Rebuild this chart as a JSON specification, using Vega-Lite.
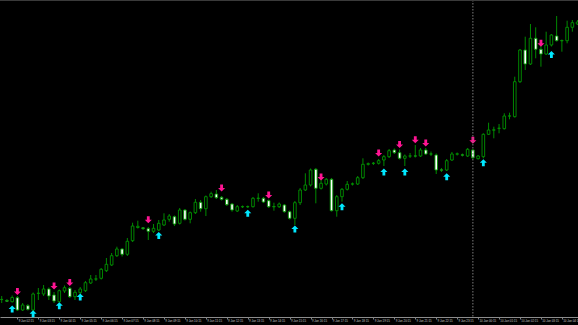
{
"$schema": "https://vega.github.io/schema/vega-lite/v6.json",
"width": 578, "height": 317,
"autosize": {"type": "none"},
"padding": {"left": 0, "top": 0, "right": 0, "bottom": 8},
"background": "#000000",
"config": {"view": {"stroke": null}, "axis": {"labelOverlap": false}},
"resolve": {"axis": {"x": "independent"}},
"datasets": {
"candles": [
{"t":"2024-01-09T01:30Z","o":17.4,"h":21,"l":14,"c":17.6},
{"t":"2024-01-09T01:45Z","o":16.5,"h":18,"l":15,"c":15.8},
{"t":"2024-01-09T02:00Z","o":15.3,"h":21.5,"l":14.5,"c":19.5},
{"t":"2024-01-09T02:15Z","o":19.3,"h":21,"l":6,"c":7},
{"t":"2024-01-09T02:30Z","o":7,"h":14,"l":6,"c":12},
{"t":"2024-01-09T02:45Z","o":11.3,"h":13,"l":6.5,"c":7.7},
{"t":"2024-01-09T03:00Z","o":7,"h":24.5,"l":6,"c":23},
{"t":"2024-01-09T03:15Z","o":23.6,"h":29,"l":17,"c":23.8},
{"t":"2024-01-09T03:30Z","o":23,"h":32,"l":21,"c":28},
{"t":"2024-01-09T03:45Z","o":28,"h":29.5,"l":17,"c":21},
{"t":"2024-01-09T04:00Z","o":22,"h":25,"l":14,"c":16},
{"t":"2024-01-09T04:15Z","o":15.3,"h":27.5,"l":14.5,"c":26.3},
{"t":"2024-01-09T04:30Z","o":26,"h":31.5,"l":24,"c":29.3},
{"t":"2024-01-09T04:45Z","o":28.7,"h":30,"l":19,"c":20.3},
{"t":"2024-01-09T05:00Z","o":20.3,"h":27,"l":17,"c":24.7},
{"t":"2024-01-09T05:15Z","o":24.3,"h":30,"l":23,"c":28},
{"t":"2024-01-09T05:30Z","o":26.3,"h":36,"l":25,"c":34.3},
{"t":"2024-01-09T05:45Z","o":34,"h":42,"l":33,"c":38},
{"t":"2024-01-09T06:00Z","o":37.9,"h":42,"l":36,"c":38.1},
{"t":"2024-01-09T06:15Z","o":38.7,"h":49,"l":37.5,"c":47.7},
{"t":"2024-01-09T06:30Z","o":46.3,"h":59,"l":45,"c":52.7},
{"t":"2024-01-09T06:45Z","o":52,"h":64,"l":51,"c":61.3},
{"t":"2024-01-09T07:00Z","o":61.3,"h":70.3,"l":60,"c":68},
{"t":"2024-01-09T07:15Z","o":68,"h":69,"l":60.5,"c":62.7},
{"t":"2024-01-09T07:30Z","o":62.7,"h":79,"l":61,"c":75.7},
{"t":"2024-01-09T07:45Z","o":76.3,"h":94.3,"l":75,"c":91},
{"t":"2024-01-09T08:00Z","o":89.5,"h":96.3,"l":88.5,"c":90.7},
{"t":"2024-01-09T08:15Z","o":89.2,"h":90,"l":87,"c":88.4},
{"t":"2024-01-09T08:30Z","o":88.3,"h":90,"l":77,"c":85.7},
{"t":"2024-01-09T08:45Z","o":85.7,"h":93,"l":84,"c":88.7},
{"t":"2024-01-09T09:00Z","o":87,"h":97,"l":86,"c":93.7},
{"t":"2024-01-09T09:15Z","o":92,"h":103.7,"l":91,"c":97},
{"t":"2024-01-09T09:30Z","o":97.7,"h":103,"l":95.3,"c":101},
{"t":"2024-01-09T09:45Z","o":100.3,"h":101.5,"l":91,"c":93},
{"t":"2024-01-09T10:00Z","o":93.7,"h":109,"l":92.5,"c":107},
{"t":"2024-01-09T10:15Z","o":107,"h":108,"l":96.5,"c":97.7},
{"t":"2024-01-09T10:30Z","o":97.7,"h":105.5,"l":93.7,"c":104.3},
{"t":"2024-01-09T10:45Z","o":104.3,"h":118,"l":103,"c":114.7},
{"t":"2024-01-09T11:00Z","o":114.7,"h":117,"l":105.3,"c":108.3},
{"t":"2024-01-09T11:15Z","o":108.3,"h":121.5,"l":101,"c":120.3},
{"t":"2024-01-09T11:30Z","o":120.3,"h":125.3,"l":119,"c":123.3},
{"t":"2024-01-09T11:45Z","o":123,"h":127,"l":118,"c":119.3},
{"t":"2024-01-09T12:00Z","o":119.7,"h":121,"l":116.5,"c":117.7},
{"t":"2024-01-09T12:15Z","o":117.7,"h":119,"l":111,"c":112.3},
{"t":"2024-01-09T12:30Z","o":113,"h":114,"l":105.3,"c":107},
{"t":"2024-01-09T12:45Z","o":106,"h":112,"l":105,"c":110.3},
{"t":"2024-01-09T13:00Z","o":110.2,"h":111.5,"l":109,"c":110.4},
{"t":"2024-01-09T13:15Z","o":110.4,"h":111.5,"l":109,"c":110.2},
{"t":"2024-01-09T13:30Z","o":110.3,"h":120,"l":109.5,"c":118.7},
{"t":"2024-01-09T13:45Z","o":118.6,"h":123.7,"l":115.3,"c":118.8},
{"t":"2024-01-09T14:00Z","o":118.7,"h":120,"l":114,"c":115},
{"t":"2024-01-09T14:15Z","o":116.3,"h":117.5,"l":109,"c":110.3},
{"t":"2024-01-09T14:30Z","o":110.4,"h":114.3,"l":106.3,"c":110.2},
{"t":"2024-01-09T14:45Z","o":110.3,"h":114.5,"l":109,"c":113},
{"t":"2024-01-09T15:00Z","o":112,"h":113,"l":104.3,"c":105.3},
{"t":"2024-01-09T15:15Z","o":105.3,"h":106.5,"l":97.5,"c":98.7},
{"t":"2024-01-09T15:30Z","o":98.7,"h":116,"l":92,"c":114.3},
{"t":"2024-01-09T15:45Z","o":114.3,"h":129,"l":112,"c":127},
{"t":"2024-01-09T16:00Z","o":127,"h":143.7,"l":126,"c":132},
{"t":"2024-01-09T16:15Z","o":132,"h":148.5,"l":130.5,"c":147},
{"t":"2024-01-09T16:30Z","o":147.7,"h":149,"l":113.7,"c":128.7},
{"t":"2024-01-09T16:45Z","o":128.7,"h":139,"l":127.5,"c":133.7},
{"t":"2024-01-09T17:00Z","o":133,"h":139,"l":131.5,"c":137.7},
{"t":"2024-01-09T17:15Z","o":137.7,"h":139,"l":105.5,"c":106.3},
{"t":"2024-01-09T17:30Z","o":106.3,"h":122,"l":100.3,"c":120.3},
{"t":"2024-01-09T17:45Z","o":120.3,"h":129,"l":115.3,"c":127.7},
{"t":"2024-01-09T18:00Z","o":127.7,"h":136,"l":126.5,"c":132.7},
{"t":"2024-01-09T18:15Z","o":132.9,"h":134.5,"l":131.5,"c":133.1},
{"t":"2024-01-09T18:30Z","o":133,"h":141,"l":132,"c":139.3},
{"t":"2024-01-09T18:45Z","o":139.3,"h":158.7,"l":138,"c":152.7},
{"t":"2024-01-09T19:00Z","o":152.7,"h":154.5,"l":151.5,"c":153.3},
{"t":"2024-01-09T19:15Z","o":153.6,"h":155,"l":152,"c":153.8},
{"t":"2024-01-09T19:30Z","o":153.7,"h":158,"l":152.5,"c":156.3},
{"t":"2024-01-09T19:45Z","o":157,"h":162,"l":151,"c":160.3},
{"t":"2024-01-09T20:00Z","o":160.3,"h":168,"l":159,"c":166.3},
{"t":"2024-01-09T20:15Z","o":167,"h":168.5,"l":163,"c":164.3},
{"t":"2024-01-09T20:30Z","o":164.3,"h":167.5,"l":157.5,"c":158.7},
{"t":"2024-01-09T20:45Z","o":158.7,"h":162.5,"l":151,"c":161},
{"t":"2024-01-09T21:00Z","o":160.9,"h":164,"l":159,"c":161.1},
{"t":"2024-01-09T21:15Z","o":161.1,"h":172,"l":159.5,"c":160.9},
{"t":"2024-01-09T21:30Z","o":161,"h":169,"l":160,"c":167},
{"t":"2024-01-09T21:45Z","o":167,"h":169,"l":162,"c":163},
{"t":"2024-01-09T22:00Z","o":163.1,"h":165.5,"l":161,"c":162.9},
{"t":"2024-01-09T22:15Z","o":162,"h":163.5,"l":143,"c":147},
{"t":"2024-01-09T22:30Z","o":147.2,"h":149,"l":145,"c":146.8},
{"t":"2024-01-09T22:45Z","o":147,"h":158,"l":146,"c":156.3},
{"t":"2024-01-09T23:00Z","o":157,"h":165,"l":156,"c":163},
{"t":"2024-01-09T23:15Z","o":162.8,"h":164.5,"l":161.5,"c":163.2},
{"t":"2024-01-09T23:30Z","o":162.2,"h":163.5,"l":160.5,"c":161.8},
{"t":"2024-01-09T23:45Z","o":161,"h":169,"l":160,"c":167.7},
{"t":"2024-01-10T00:00Z","o":167,"h":168,"l":158,"c":159.3},
{"t":"2024-01-10T00:15Z","o":158.3,"h":162,"l":157.5,"c":161},
{"t":"2024-01-10T00:30Z","o":160.3,"h":183.7,"l":158.7,"c":182.7},
{"t":"2024-01-10T00:45Z","o":182.7,"h":194.3,"l":182,"c":187},
{"t":"2024-01-10T01:00Z","o":186.8,"h":190.3,"l":178.7,"c":187.2},
{"t":"2024-01-10T01:15Z","o":188.6,"h":193,"l":183.7,"c":188.8},
{"t":"2024-01-10T01:30Z","o":188.3,"h":203.7,"l":187.5,"c":201},
{"t":"2024-01-10T01:45Z","o":200.9,"h":204.3,"l":197.7,"c":201.1},
{"t":"2024-01-10T02:00Z","o":200.3,"h":240.3,"l":199.5,"c":235.3},
{"t":"2024-01-10T02:15Z","o":235.3,"h":268,"l":234,"c":267},
{"t":"2024-01-10T02:30Z","o":267,"h":280.3,"l":247,"c":253},
{"t":"2024-01-10T02:45Z","o":253,"h":293,"l":252,"c":278.7},
{"t":"2024-01-10T03:00Z","o":278.7,"h":289.7,"l":258.7,"c":267.7},
{"t":"2024-01-10T03:15Z","o":267.7,"h":272,"l":250.3,"c":263},
{"t":"2024-01-10T03:30Z","o":263,"h":285.3,"l":262,"c":272},
{"t":"2024-01-10T03:45Z","o":272,"h":283,"l":270.5,"c":282},
{"t":"2024-01-10T04:00Z","o":281,"h":301,"l":275.5,"c":276.3},
{"t":"2024-01-10T04:15Z","o":276.4,"h":277.5,"l":265.3,"c":276.2},
{"t":"2024-01-10T04:30Z","o":276.3,"h":296.3,"l":273.7,"c":289.7},
{"t":"2024-01-10T04:45Z","o":289.7,"h":297,"l":285.3,"c":294.3},
{"t":"2024-01-10T05:00Z","o":293,"h":297,"l":292,"c":295}
],
"arrows": [
{"t":"2024-01-09T02:15Z","dir":"down","v":25.5},
{"t":"2024-01-09T04:00Z","dir":"down","v":31},
{"t":"2024-01-09T04:45Z","dir":"down","v":34.5},
{"t":"2024-01-09T08:30Z","dir":"down","v":97.3},
{"t":"2024-01-09T12:00Z","dir":"down","v":129},
{"t":"2024-01-09T14:15Z","dir":"down","v":122},
{"t":"2024-01-09T16:45Z","dir":"down","v":140},
{"t":"2024-01-09T19:30Z","dir":"down","v":164},
{"t":"2024-01-09T20:30Z","dir":"down","v":172.5},
{"t":"2024-01-09T21:15Z","dir":"down","v":177.3},
{"t":"2024-01-09T21:45Z","dir":"down","v":174},
{"t":"2024-01-10T00:00Z","dir":"down","v":176.7},
{"t":"2024-01-10T03:15Z","dir":"down","v":273.7},
{"t":"2024-01-09T02:00Z","dir":"up","v":8},
{"t":"2024-01-09T03:00Z","dir":"up","v":3.3},
{"t":"2024-01-09T04:15Z","dir":"up","v":11.3},
{"t":"2024-01-09T05:15Z","dir":"up","v":20},
{"t":"2024-01-09T09:00Z","dir":"up","v":81.5},
{"t":"2024-01-09T13:15Z","dir":"up","v":103.7},
{"t":"2024-01-09T15:30Z","dir":"up","v":88},
{"t":"2024-01-09T17:45Z","dir":"up","v":110.3},
{"t":"2024-01-09T19:45Z","dir":"up","v":145},
{"t":"2024-01-09T20:45Z","dir":"up","v":145},
{"t":"2024-01-09T22:45Z","dir":"up","v":140.3},
{"t":"2024-01-10T00:30Z","dir":"up","v":154.3},
{"t":"2024-01-10T03:45Z","dir":"up","v":262.5}
],
"marks": [
{"t":"2024-01-10T00:00Z","top":317}
]
},
"layer": [
{"data": {"name": "candles"},
"mark": {"type": "rule", "color": "#008a00", "strokeWidth": 1},
"encoding": {
"x": {"field": "t", "type": "temporal",
"scale": {"type": "utc", "nice": false, "padding": 0, "domain": [
{"year":2024,"month":1,"date":9,"hours":1,"minutes":25,"seconds":7,"utc":true},
{"year":2024,"month":1,"date":10,"hours":5,"minutes":1,"seconds":12,"utc":true}]},
"axis": {"orient": "bottom", "title": null, "grid": false, "format": "%-d %b %H:%M",
"values": [
{"year":2024,"month":1,"date":9,"hours":2,"minutes":15,"utc":true},
{"year":2024,"month":1,"date":9,"hours":4,"minutes":15,"utc":true},
{"year":2024,"month":1,"date":9,"hours":6,"minutes":15,"utc":true},
{"year":2024,"month":1,"date":9,"hours":8,"minutes":15,"utc":true},
{"year":2024,"month":1,"date":9,"hours":10,"minutes":15,"utc":true},
{"year":2024,"month":1,"date":9,"hours":12,"minutes":15,"utc":true},
{"year":2024,"month":1,"date":9,"hours":14,"minutes":15,"utc":true},
{"year":2024,"month":1,"date":9,"hours":16,"minutes":15,"utc":true},
{"year":2024,"month":1,"date":9,"hours":18,"minutes":15,"utc":true},
{"year":2024,"month":1,"date":9,"hours":20,"minutes":15,"utc":true},
{"year":2024,"month":1,"date":9,"hours":22,"minutes":15,"utc":true},
{"year":2024,"month":1,"date":10,"hours":0,"minutes":15,"utc":true},
{"year":2024,"month":1,"date":10,"hours":2,"minutes":15,"utc":true},
{"year":2024,"month":1,"date":10,"hours":4,"minutes":15,"utc":true}],
"labelAlign": "left", "labelFlush": false, "labelOverlap": false, "labelBound": false,
"labelFont": "Liberation Sans", "labelFontSize": 2.9, "labelColor": "#c8c8c8", "labelPadding": 0.5, "labelOffset": 0.8,
"tickSize": 2, "tickColor": "#808080", "domainColor": "#8c8c8c", "domainWidth": 1}},
"y": {"field": "l", "type": "quantitative", "scale": {"domain": [0, 317], "nice": false, "zero": false}, "axis": null},
"y2": {"field": "h"}}},
{"data": {"name": "candles"},
"mark": {"type": "bar", "width": 2.6, "stroke": "#009400", "strokeWidth": 0.9},
"encoding": {
"x": {"field": "t", "type": "temporal",
"axis": {"orient": "bottom", "title": null, "grid": false, "domain": false, "format": "%-d %b %H:%M",
"values": [
{"year":2024,"month":1,"date":9,"hours":1,"minutes":15,"utc":true},
{"year":2024,"month":1,"date":9,"hours":3,"minutes":15,"utc":true},
{"year":2024,"month":1,"date":9,"hours":5,"minutes":15,"utc":true},
{"year":2024,"month":1,"date":9,"hours":7,"minutes":15,"utc":true},
{"year":2024,"month":1,"date":9,"hours":9,"minutes":15,"utc":true},
{"year":2024,"month":1,"date":9,"hours":11,"minutes":15,"utc":true},
{"year":2024,"month":1,"date":9,"hours":13,"minutes":15,"utc":true},
{"year":2024,"month":1,"date":9,"hours":15,"minutes":15,"utc":true},
{"year":2024,"month":1,"date":9,"hours":17,"minutes":15,"utc":true},
{"year":2024,"month":1,"date":9,"hours":19,"minutes":15,"utc":true},
{"year":2024,"month":1,"date":9,"hours":21,"minutes":15,"utc":true},
{"year":2024,"month":1,"date":9,"hours":23,"minutes":15,"utc":true},
{"year":2024,"month":1,"date":10,"hours":1,"minutes":15,"utc":true},
{"year":2024,"month":1,"date":10,"hours":3,"minutes":15,"utc":true}],
"labelAlign": "left", "labelFlush": false, "labelOverlap": false, "labelBound": false,
"labelFont": "Liberation Sans", "labelFontSize": 2.9, "labelColor": "#c8c8c8", "labelPadding": 0.5, "labelOffset": 0.8,
"tickSize": 2, "tickColor": "#808080"}},
"y": {"field": "o", "type": "quantitative", "axis": null}, "y2": {"field": "c"},
"fill": {"condition": {"test": "datum.c < datum.o", "value": "#ffffff"}, "value": "#000000"}}},
{"data": {"name": "arrows"},
"mark": {"type": "point", "filled": true, "opacity": 1, "size": 50, "strokeWidth": 0},
"encoding": {
"x": {"field": "t", "type": "temporal", "axis": null},
"y": {"field": "v", "type": "quantitative", "axis": null},
"shape": {"field": "dir", "type": "nominal", "legend": null, "scale": {"domain": ["down", "up"], "range": ["M-0.4,-1H0.4V0H1L0,1L-1,0H-0.4Z", "M-0.4,1H0.4V0H1L0,-1L-1,0H-0.4Z"]}},
"color": {"field": "dir", "type": "nominal", "legend": null, "scale": {"domain": ["down", "up"], "range": ["#ff1493", "#00e8ff"]}}}},
{"data": {"name": "marks"},
"mark": {"type": "rule", "color": "#7a7a7a", "strokeWidth": 1, "strokeDash": [1.5, 1.5]},
"encoding": {"x": {"field": "t", "type": "temporal", "axis": null}}},
{"data": {"name": "marks"},
"mark": {"type": "rule", "color": "#3a3a3a", "strokeWidth": 2},
"encoding": {"y": {"field": "top", "type": "quantitative", "axis": null}}}
]
}
